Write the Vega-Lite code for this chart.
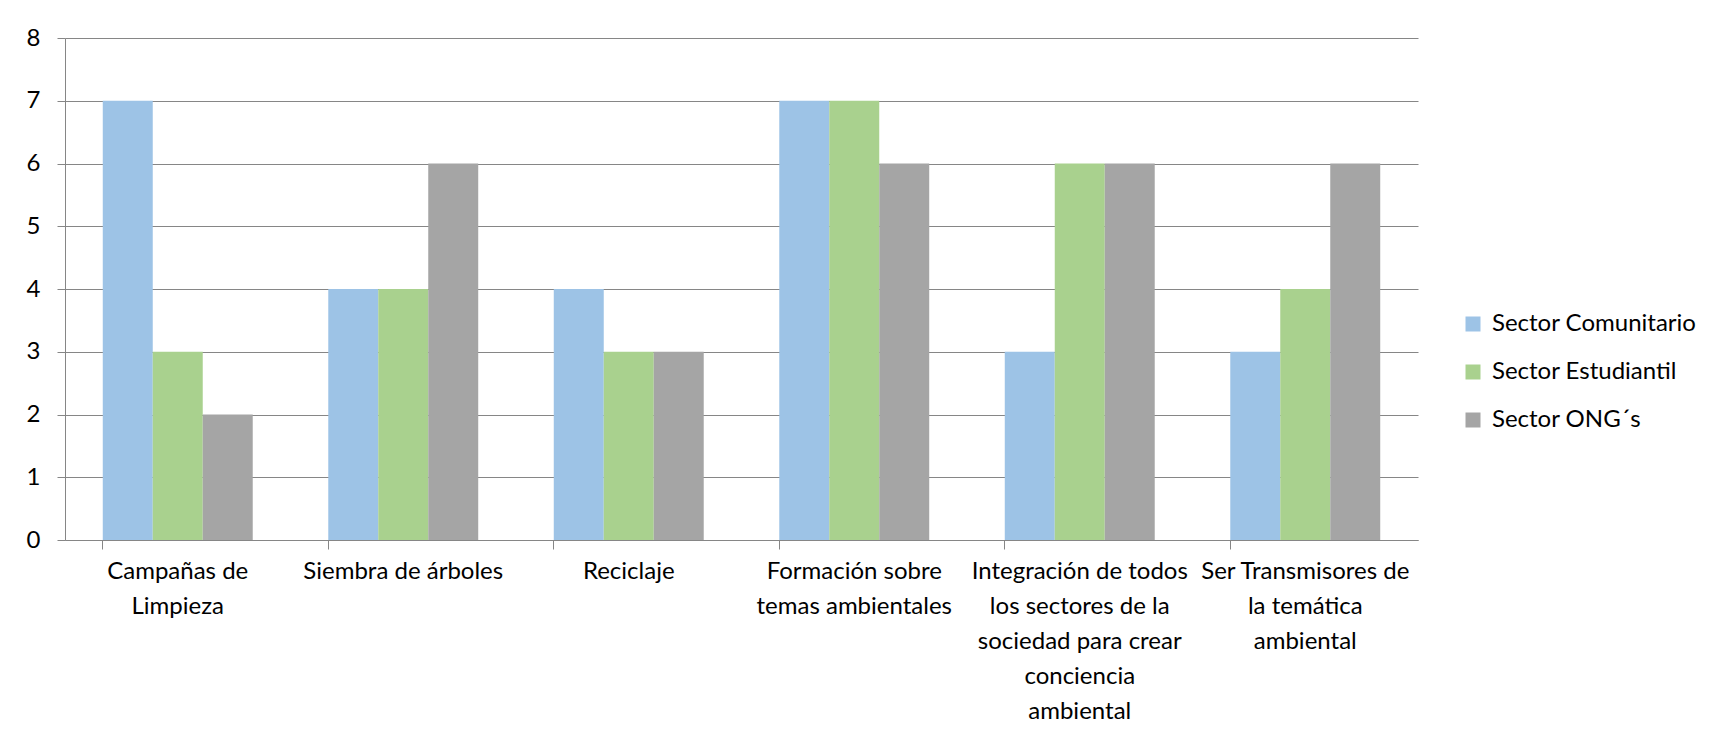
{
  "$schema": "https://vega.github.io/schema/vega-lite/v6.json",
  "width": 1353,
  "height": 502,
  "autosize": {"type": "none"},
  "padding": {"left": 65, "top": 38, "right": 302, "bottom": 194},
  "background": "white",
  "config": {
    "font": "Lato",
    "view": {"stroke": null},
    "axis": {"labelFont": "Lato", "labelColor": "#000000", "domainColor": "#868686", "tickColor": "#868686", "gridColor": "#868686"},
    "legend": {"labelFont": "Lato", "labelColor": "#000000"}
  },
  "data": {
    "values": [
      {"actividad": "Campañas de Limpieza", "sector": "Sector Comunitario", "valor": 7},
      {"actividad": "Campañas de Limpieza", "sector": "Sector Estudiantil", "valor": 3},
      {"actividad": "Campañas de Limpieza", "sector": "Sector ONG´s", "valor": 2},
      {"actividad": "Siembra de árboles", "sector": "Sector Comunitario", "valor": 4},
      {"actividad": "Siembra de árboles", "sector": "Sector Estudiantil", "valor": 4},
      {"actividad": "Siembra de árboles", "sector": "Sector ONG´s", "valor": 6},
      {"actividad": "Reciclaje", "sector": "Sector Comunitario", "valor": 4},
      {"actividad": "Reciclaje", "sector": "Sector Estudiantil", "valor": 3},
      {"actividad": "Reciclaje", "sector": "Sector ONG´s", "valor": 3},
      {"actividad": "Formación sobre temas ambientales", "sector": "Sector Comunitario", "valor": 7},
      {"actividad": "Formación sobre temas ambientales", "sector": "Sector Estudiantil", "valor": 7},
      {"actividad": "Formación sobre temas ambientales", "sector": "Sector ONG´s", "valor": 6},
      {"actividad": "Integración de todos los sectores de la sociedad para crear conciencia ambiental", "sector": "Sector Comunitario", "valor": 3},
      {"actividad": "Integración de todos los sectores de la sociedad para crear conciencia ambiental", "sector": "Sector Estudiantil", "valor": 6},
      {"actividad": "Integración de todos los sectores de la sociedad para crear conciencia ambiental", "sector": "Sector ONG´s", "valor": 6},
      {"actividad": "Ser Transmisores de la temática ambiental", "sector": "Sector Comunitario", "valor": 3},
      {"actividad": "Ser Transmisores de la temática ambiental", "sector": "Sector Estudiantil", "valor": 4},
      {"actividad": "Ser Transmisores de la temática ambiental", "sector": "Sector ONG´s", "valor": 6}
    ]
  },
  "mark": {"type": "bar"},
  "encoding": {
    "x": {
      "field": "actividad",
      "type": "nominal",
      "sort": null,
      "title": null,
      "scale": {"paddingInner": 0.335, "paddingOuter": 0.1675},
      "axis": {
        "labelAngle": 0,
        "labelFontSize": 24,
        "labelLineHeight": 35,
        "labelPadding": 10,
        "labelBaseline": "top",
        "labelOverlap": false,
        "tickSize": 9,
        "bandPosition": 0,
        "labelLimit": 400,
        "labelExpr": "datum.value == 'Campañas de Limpieza' ? ['Campañas de', 'Limpieza'] : datum.value == 'Formación sobre temas ambientales' ? ['Formación sobre', 'temas ambientales'] : datum.value == 'Integración de todos los sectores de la sociedad para crear conciencia ambiental' ? ['Integración de todos', 'los sectores de la', 'sociedad para crear', 'conciencia', 'ambiental'] : datum.value == 'Ser Transmisores de la temática ambiental' ? ['Ser Transmisores de', 'la temática', 'ambiental'] : datum.value"
      }
    },
    "xOffset": {"field": "sector", "type": "nominal", "sort": null, "scale": {"paddingInner": 0, "paddingOuter": 0}},
    "y": {
      "field": "valor",
      "type": "quantitative",
      "title": null,
      "scale": {"domain": [0, 8], "nice": false},
      "axis": {"values": [0,1,2,3,4,5,6,7,8], "labelOverlap": false, "labelFontSize": 24, "tickSize": 8, "labelPadding": 17, "grid": true}
    },
    "color": {
      "field": "sector",
      "type": "nominal",
      "sort": null,
      "title": null,
      "scale": {"domain": ["Sector Comunitario", "Sector Estudiantil", "Sector ONG´s"], "range": ["#9DC3E6", "#A9D18E", "#A5A5A5"]},
      "legend": {
        "orient": "none",
        "legendX": 1396,
        "legendY": 274,
        "symbolType": "square",
        "symbolSize": 225,
        "symbolStrokeWidth": 0,
        "labelFontSize": 24,
        "labelLimit": 400,
        "labelOffset": 7,
        "rowPadding": 24
      }
    }
  }
}
